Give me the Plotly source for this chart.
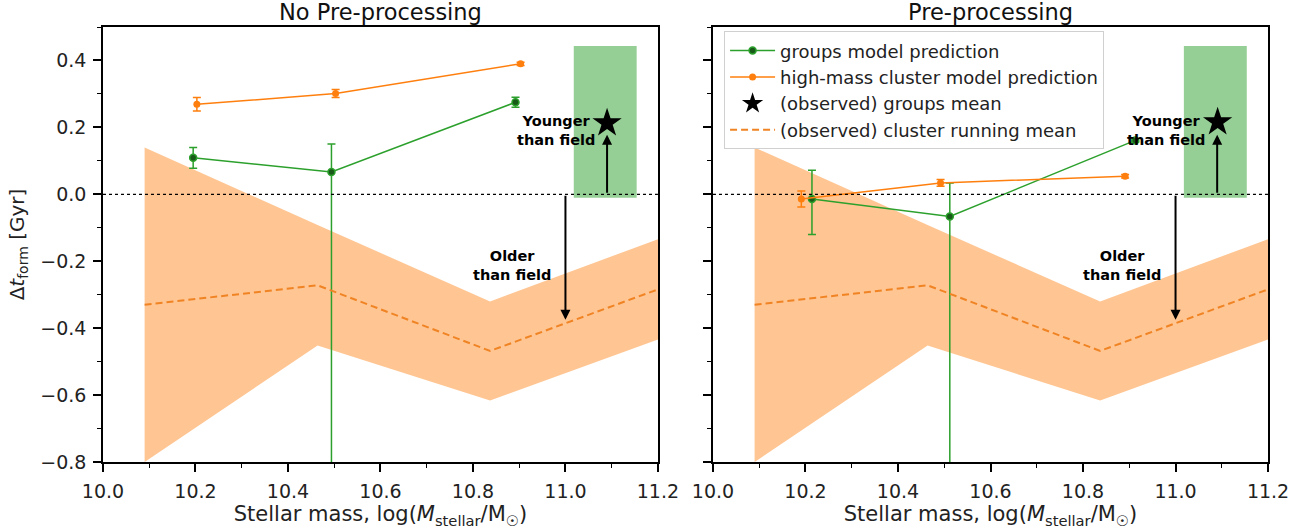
import plotly.graph_objects as go

# running mean of the observed cluster sample (same in both panels)
band_x = [10.09, 10.464, 10.837, 11.21]
band_mean = [-0.33, -0.272, -0.468, -0.279]
band_std = [0.47, 0.18, 0.148, 0.15]

# observed groups mean (star) and its spread (green box)
star_x = [11.09, 11.091]
star_y = [0.213, 0.216]
box_x = [11.018, 11.154]
box_y = [-0.01, 0.443]

# model predictions, no pre-processing (left)
grp_x_nopre = [10.195, 10.494, 10.892]
grp_y_nopre = [0.109, 0.067, 0.275]
grp_ep_nopre = [0.031, 0.083, 0.015]
grp_em_nopre = [0.031, 0.95, 0.015]
cl_x_nopre = [10.203, 10.503, 10.903]
cl_y_nopre = [0.269, 0.301, 0.39]
cl_e_nopre = [0.02, 0.012, 0.005]

# model predictions, pre-processing (right)
grp_x_pre = [10.214, 10.512, 10.913]
grp_y_pre = [-0.014, -0.066, 0.161]
grp_ep_pre = [0.086, 0.10, 0.005]
grp_em_pre = [0.106, 0.95, 0.005]
cl_x_pre = [10.191, 10.492, 10.891]
cl_y_pre = [-0.014, 0.034, 0.054]
cl_e_pre = [0.024, 0.01, 0.005]

# arrows / labels
young_arrow = (11.09, 0.0, 0.178)
old_arrow = (11.0, 0.0, -0.375)
young_text = (10.98, 0.19)
old_text = (10.885, -0.212)

GREEN = "#2ca02c"
DKGREEN = "#185a18"
ORANGE = "#ff7f0e"
FONT = "DejaVu Sans"

fig = go.Figure()

panels = [
    ("x", "y", grp_x_nopre, grp_y_nopre, grp_ep_nopre, grp_em_nopre,
     cl_x_nopre, cl_y_nopre, cl_e_nopre, 0, False),
    ("x2", "y2", grp_x_pre, grp_y_pre, grp_ep_pre, grp_em_pre,
     cl_x_pre, cl_y_pre, cl_e_pre, 1, True),
]

for xa, ya, gx, gy, gep, gem, cx, cy, ce, i, leg in panels:
    bx = band_x + band_x[::-1]
    by = [m + s for m, s in zip(band_mean, band_std)] + \
         [m - s for m, s in zip(band_mean, band_std)][::-1]
    fig.add_trace(go.Scatter(x=bx, y=by, fill="toself", mode="none",
                             fillcolor="rgba(255,127,14,0.45)", hoverinfo="skip",
                             showlegend=False, xaxis=xa, yaxis=ya))
    fig.add_trace(go.Scatter(x=[box_x[0], box_x[1], box_x[1], box_x[0], box_x[0]],
                             y=[box_y[0], box_y[0], box_y[1], box_y[1], box_y[0]],
                             fill="toself", mode="none",
                             fillcolor="rgba(44,160,44,0.5)", showlegend=False,
                             xaxis=xa, yaxis=ya))
    fig.add_trace(go.Scatter(x=gx, y=gy, mode="lines+markers",
                             name="groups model prediction",
                             line=dict(color=GREEN, width=1.5),
                             marker=dict(size=7, color=DKGREEN,
                                         line=dict(color=GREEN, width=1.5)),
                             error_y=dict(type="data", symmetric=False, array=gep,
                                          arrayminus=gem, color=GREEN,
                                          thickness=1.5, width=4),
                             showlegend=leg, xaxis=xa, yaxis=ya))
    fig.add_trace(go.Scatter(x=cx, y=cy, mode="lines+markers",
                             name="high-mass cluster model prediction",
                             line=dict(color=ORANGE, width=1.5),
                             marker=dict(size=7, color=ORANGE),
                             error_y=dict(type="data", array=ce, color=ORANGE,
                                          thickness=1.5, width=4),
                             showlegend=leg, xaxis=xa, yaxis=ya))
    fig.add_trace(go.Scatter(x=[star_x[i]], y=[star_y[i]], mode="markers",
                             name="(observed) groups mean",
                             marker=dict(symbol="star", size=22, color="black"),
                             showlegend=leg, xaxis=xa, yaxis=ya))
    fig.add_trace(go.Scatter(x=band_x, y=band_mean, mode="lines",
                             name="(observed) cluster running mean",
                             line=dict(color="#f08424", width=2, dash="7px,4px"),
                             showlegend=leg, xaxis=xa, yaxis=ya))

    fig.add_shape(type="line", xref=xa + " domain", yref=ya, x0=0, x1=1, y0=0, y1=0,
                  line=dict(color="black", width=1.3, dash="dot"))
    for (ax_x, y0, y1) in (young_arrow, old_arrow):
        fig.add_annotation(x=ax_x, y=y1, ax=ax_x, ay=y0, xref=xa, yref=ya,
                           axref=xa, ayref=ya, text="", showarrow=True,
                           arrowhead=2, arrowsize=1, arrowwidth=2, arrowcolor="black")
    fig.add_annotation(x=young_text[0], y=young_text[1], xref=xa, yref=ya,
                       text="<b>Younger<br>than field</b>", showarrow=False,
                       font=dict(family=FONT, size=14.5, color="black"), align="center")
    fig.add_annotation(x=old_text[0], y=old_text[1], xref=xa, yref=ya,
                       text="<b>Older<br>than field</b>", showarrow=False,
                       font=dict(family=FONT, size=14.5, color="black"), align="center")

titles = ["No Pre-processing", "Pre-processing"]
doms = [[0.0788, 0.5034], [0.5455, 0.9702]]
for t, d in zip(titles, doms):
    fig.add_annotation(x=(d[0] + d[1]) / 2, y=1, xref="paper", yref="paper",
                       xanchor="center", yanchor="bottom", text=t, showarrow=False,
                       font=dict(family=FONT, size=22.5, color="#111"))

xlabel = "Stellar mass, log(<i>M</i><sub>stellar</sub>/M<sub>\u2609</sub>)"
axis_common = dict(showline=True, linecolor="black", linewidth=1.5, mirror=True,
                   ticks="outside", ticklen=8, tickwidth=1.5, tickcolor="black",
                   showgrid=False, zeroline=False, automargin=False,
                   ticklabelstandoff=3,
                   tickfont=dict(family=FONT, size=19, color="#222"))
minor = dict(ticks="outside", dtick=0.1, ticklen=4, tickcolor="black", tickwidth=1.2)

fig.update_layout(
    width=1307, height=532,
    margin=dict(l=0, r=0, t=27, b=70),
    plot_bgcolor="white", paper_bgcolor="white",
    font=dict(family=FONT, color="#222"),
    xaxis=dict(domain=doms[0], range=[10.0, 11.2], dtick=0.2, tick0=10.0,
               tickformat=".1f", anchor="y", minor=minor,
               title=dict(text=xlabel, font=dict(family=FONT, size=21), standoff=6),
               **axis_common),
    xaxis2=dict(domain=doms[1], range=[10.0, 11.2], dtick=0.2, tick0=10.0,
                tickformat=".1f", anchor="y2", minor=minor,
                title=dict(text=xlabel, font=dict(family=FONT, size=21), standoff=6),
                **axis_common),
    yaxis=dict(range=[-0.8, 0.5], dtick=0.2, tick0=0.0, tickformat=".1f", anchor="x",
               minor=minor,
               title=dict(text="\u0394<i>t</i><sub>form</sub> [Gyr]",
                          font=dict(family=FONT, size=20), standoff=10),
               **axis_common),
    yaxis2=dict(range=[-0.8, 0.5], dtick=0.2, tick0=0.0, anchor="x2",
                showticklabels=False, matches="y", minor=minor,
                **axis_common),
    legend=dict(x=0.554, y=0.99, xanchor="left", yanchor="top",
                bgcolor="rgba(255,255,255,0.85)", bordercolor="#d0d0d0", borderwidth=1,
                font=dict(family=FONT, size=18, color="#222"), itemwidth=45,
                tracegroupgap=0),
)

# drop the browser's default 8px body margin so the figure sits at the page corner
fig.write_html("out.html", config={"displayModeBar": False},
               post_script="document.body.style.margin='0';")
